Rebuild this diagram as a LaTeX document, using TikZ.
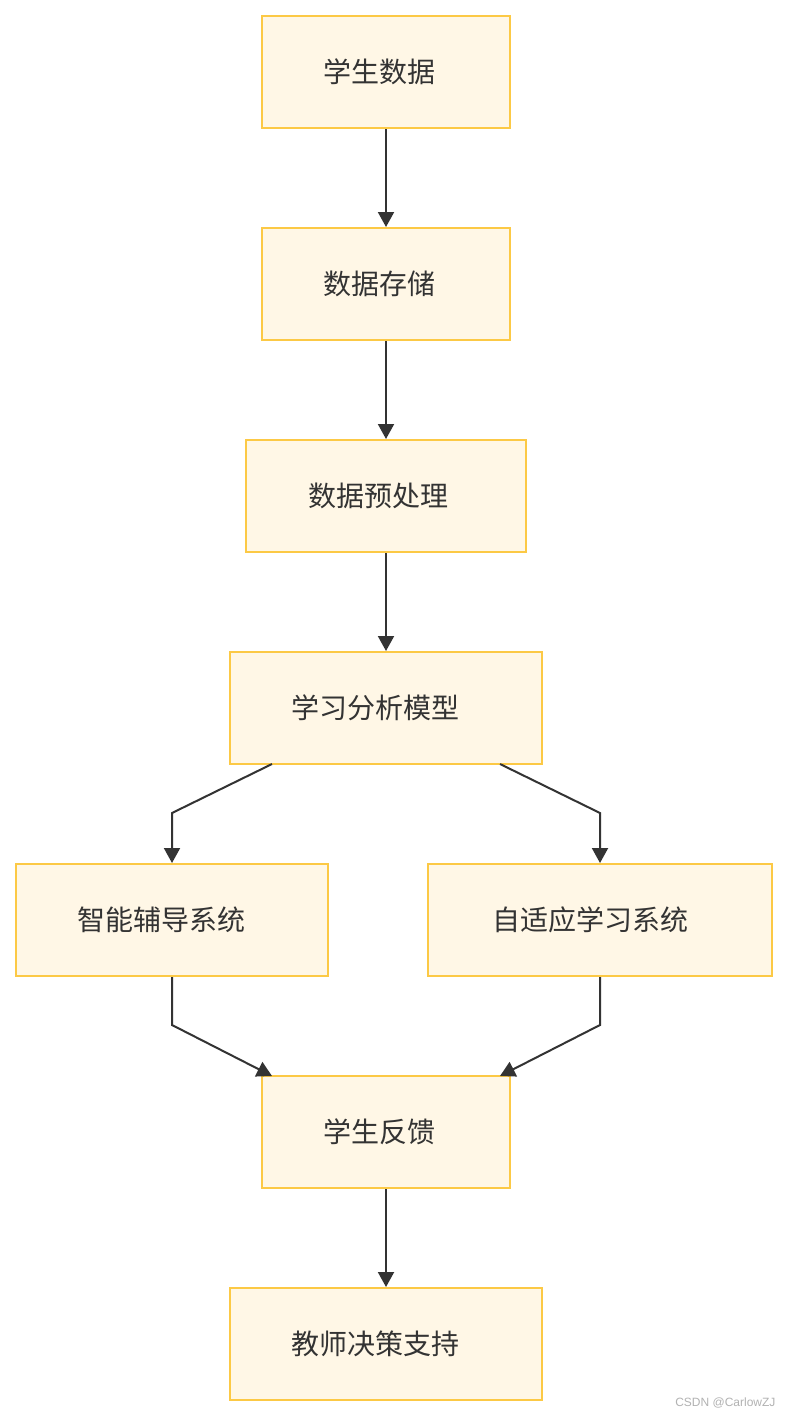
\documentclass[tikz,border=0pt]{standalone}
\usepackage{fontspec}
\setmainfont{Noto Sans CJK SC}
\newfontfamily\wmfont{Liberation Sans}
\usetikzlibrary{arrows.meta}
\definecolor{boxfill}{HTML}{FFF7E6}
\definecolor{boxline}{HTML}{FCC945}
\definecolor{edgecol}{HTML}{333333}
\begin{document}
\begin{tikzpicture}[x=1pt,y=-1pt,
  box/.style={draw=boxline,fill=boxfill,line width=2pt,minimum height=112pt,inner sep=0pt},
  lbl/.style={font=\fontsize{28}{32}\selectfont,text=edgecol},
  edge/.style={draw=edgecol,line width=2pt,-{Triangle[length=15pt,width=16pt]}}]
\useasboundingbox (0,0) rectangle (788,1416);
\fill[white] (0,0) rectangle (788,1416);
\node[box,minimum width=248pt,label={[lbl,xshift=-7pt]center:学生数据}] (n1) at (386,72) {};
\node[box,minimum width=248pt,label={[lbl,xshift=-7pt]center:数据存储}] (n2) at (386,284) {};
\node[box,minimum width=280pt,label={[lbl,xshift=-8pt]center:数据预处理}] (n3) at (386,496) {};
\node[box,minimum width=312pt,label={[lbl,xshift=-11pt]center:学习分析模型}] (n4) at (386,708) {};
\node[box,minimum width=312pt,label={[lbl,xshift=-11pt]center:智能辅导系统}] (n5) at (172,920) {};
\node[box,minimum width=344pt,label={[lbl,xshift=-10pt]center:自适应学习系统}] (n6) at (600,920) {};
\node[box,minimum width=248pt,label={[lbl,xshift=-7pt]center:学生反馈}] (n7) at (386,1132) {};
\node[box,minimum width=312pt,label={[lbl,xshift=-11pt]center:教师决策支持}] (n8) at (386,1344) {};
\coordinate (b5) at (172,813);
\coordinate (b6) at (600,813);
\coordinate (c5) at (172,1025);
\coordinate (c6) at (600,1025);
\draw[edge] (n1) -- (n2);
\draw[edge] (n2) -- (n3);
\draw[edge] (n3) -- (n4);
\draw[edge] (272,764) -- (b5) -- (n5.north);
\draw[edge] (500,764) -- (b6) -- (n6.north);
\draw[edge] (n5.south) -- (c5) -- (272,1076);
\draw[edge] (n6.south) -- (c6) -- (500,1076);
\draw[edge] (n7) -- (n8);
\node[font=\wmfont\fontsize{12}{14}\selectfont,text=black!30,anchor=east] (wm) at (779,1403) {CSDN @CarlowZJ};
\end{tikzpicture}
\end{document}
